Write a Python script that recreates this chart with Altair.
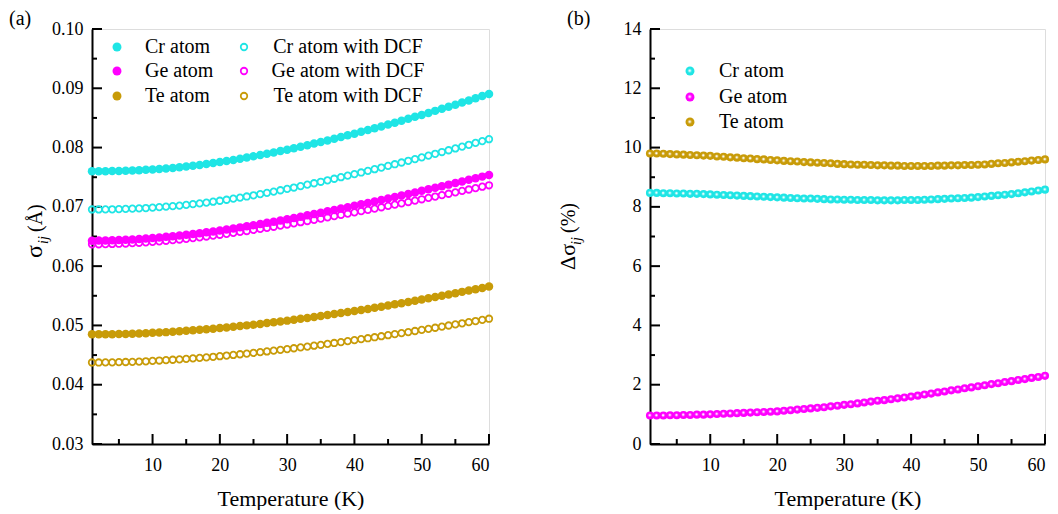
import altair as alt
import pandas as pd

# ---------------- data ----------------
temperature = list(range(1, 61))

cr_sigma = [0.07600, 0.07600, 0.07601, 0.07603, 0.07606, 0.07609, 0.07613, 0.07618, 0.07624, 0.07630,
            0.07638, 0.07647, 0.07657, 0.07668, 0.07680, 0.07693, 0.07707, 0.07722, 0.07738, 0.07755,
            0.07773, 0.07792, 0.07811, 0.07831, 0.07852, 0.07873, 0.07895, 0.07918, 0.07941, 0.07965,
            0.07990, 0.08015, 0.08041, 0.08067, 0.08094, 0.08121, 0.08149, 0.08177, 0.08206, 0.08235,
            0.08265, 0.08295, 0.08326, 0.08357, 0.08388, 0.08420, 0.08452, 0.08485, 0.08518, 0.08551,
            0.08585, 0.08619, 0.08653, 0.08688, 0.08723, 0.08759, 0.08795, 0.08831, 0.08868, 0.08905]
cr_sigma_dcf = [0.06956, 0.06956, 0.06957, 0.06959, 0.06962, 0.06965, 0.06969, 0.06974, 0.06980, 0.06988,
                0.06995, 0.07003, 0.07012, 0.07022, 0.07033, 0.07045, 0.07058, 0.07072, 0.07087, 0.07103,
                0.07120, 0.07138, 0.07156, 0.07175, 0.07195, 0.07215, 0.07236, 0.07258, 0.07280, 0.07303,
                0.07326, 0.07350, 0.07374, 0.07398, 0.07423, 0.07448, 0.07474, 0.07500, 0.07526, 0.07553,
                0.07580, 0.07607, 0.07635, 0.07663, 0.07691, 0.07719, 0.07748, 0.07777, 0.07806, 0.07835,
                0.07865, 0.07895, 0.07925, 0.07955, 0.07985, 0.08016, 0.08047, 0.08078, 0.08109, 0.08141]
ge_sigma = [0.06430, 0.06431, 0.06433, 0.06436, 0.06440, 0.06445, 0.06451, 0.06458, 0.06466, 0.06475,
            0.06484, 0.06494, 0.06505, 0.06517, 0.06529, 0.06542, 0.06556, 0.06571, 0.06586, 0.06602,
            0.06619, 0.06636, 0.06654, 0.06672, 0.06691, 0.06710, 0.06730, 0.06750, 0.06771, 0.06792,
            0.06813, 0.06835, 0.06857, 0.06879, 0.06902, 0.06925, 0.06948, 0.06971, 0.06995, 0.07019,
            0.07043, 0.07067, 0.07092, 0.07117, 0.07142, 0.07167, 0.07192, 0.07218, 0.07244, 0.07270,
            0.07296, 0.07322, 0.07348, 0.07375, 0.07402, 0.07429, 0.07456, 0.07483, 0.07510, 0.07537]
ge_sigma_dcf = [0.06368, 0.06369, 0.06371, 0.06374, 0.06378, 0.06382, 0.06388, 0.06394, 0.06402, 0.06410,
                0.06419, 0.06428, 0.06438, 0.06449, 0.06460, 0.06473, 0.06486, 0.06500, 0.06514, 0.06529,
                0.06545, 0.06560, 0.06577, 0.06593, 0.06611, 0.06628, 0.06647, 0.06664, 0.06684, 0.06702,
                0.06722, 0.06741, 0.06761, 0.06781, 0.06801, 0.06823, 0.06843, 0.06864, 0.06885, 0.06907,
                0.06928, 0.06949, 0.06971, 0.06993, 0.07016, 0.07037, 0.07060, 0.07082, 0.07106, 0.07128,
                0.07152, 0.07174, 0.07197, 0.07221, 0.07245, 0.07269, 0.07293, 0.07316, 0.07340, 0.07364]
te_sigma = [0.04850, 0.04850, 0.04851, 0.04852, 0.04854, 0.04857, 0.04860, 0.04864, 0.04869, 0.04875,
            0.04881, 0.04887, 0.04894, 0.04901, 0.04909, 0.04917, 0.04926, 0.04935, 0.04945, 0.04955,
            0.04966, 0.04977, 0.04989, 0.05001, 0.05013, 0.05026, 0.05039, 0.05053, 0.05067, 0.05081,
            0.05096, 0.05111, 0.05126, 0.05142, 0.05158, 0.05174, 0.05191, 0.05208, 0.05225, 0.05243,
            0.05261, 0.05279, 0.05298, 0.05317, 0.05336, 0.05356, 0.05376, 0.05396, 0.05416, 0.05437,
            0.05458, 0.05479, 0.05500, 0.05522, 0.05544, 0.05566, 0.05588, 0.05610, 0.05633, 0.05656]
te_sigma_dcf = [0.04375, 0.04375, 0.04376, 0.04377, 0.04380, 0.04383, 0.04386, 0.04390, 0.04395, 0.04401,
                0.04408, 0.04414, 0.04421, 0.04428, 0.04436, 0.04444, 0.04453, 0.04461, 0.04471, 0.04481,
                0.04492, 0.04502, 0.04514, 0.04525, 0.04537, 0.04549, 0.04561, 0.04575, 0.04588, 0.04601,
                0.04615, 0.04630, 0.04643, 0.04658, 0.04673, 0.04688, 0.04704, 0.04719, 0.04735, 0.04751,
                0.04768, 0.04784, 0.04801, 0.04818, 0.04835, 0.04853, 0.04871, 0.04888, 0.04906, 0.04925,
                0.04943, 0.04961, 0.04979, 0.04999, 0.05017, 0.05036, 0.05055, 0.05074, 0.05093, 0.05113]

cr_delta = [8.47, 8.47, 8.46, 8.46, 8.45, 8.45, 8.44, 8.44, 8.43, 8.42,
            8.41, 8.40, 8.39, 8.38, 8.37, 8.36, 8.35, 8.34, 8.33, 8.32,
            8.31, 8.30, 8.29, 8.28, 8.28, 8.27, 8.26, 8.25, 8.25, 8.24,
            8.24, 8.23, 8.23, 8.23, 8.22, 8.22, 8.22, 8.22, 8.23, 8.23,
            8.23, 8.24, 8.25, 8.26, 8.27, 8.28, 8.29, 8.30, 8.31, 8.33,
            8.35, 8.37, 8.39, 8.41, 8.43, 8.46, 8.49, 8.52, 8.55, 8.58]
ge_delta = [0.96, 0.96, 0.96, 0.97, 0.97, 0.98, 0.98, 0.99, 0.99, 1.00,
            1.01, 1.02, 1.03, 1.04, 1.05, 1.06, 1.07, 1.08, 1.09, 1.10,
            1.12, 1.14, 1.16, 1.18, 1.20, 1.22, 1.24, 1.27, 1.29, 1.32,
            1.34, 1.37, 1.40, 1.43, 1.46, 1.48, 1.51, 1.54, 1.57, 1.60,
            1.63, 1.67, 1.70, 1.74, 1.77, 1.81, 1.84, 1.88, 1.91, 1.95,
            1.98, 2.02, 2.05, 2.09, 2.12, 2.16, 2.19, 2.23, 2.26, 2.30]
te_delta = [9.80, 9.80, 9.79, 9.78, 9.77, 9.76, 9.75, 9.74, 9.73, 9.72,
            9.70, 9.69, 9.67, 9.66, 9.64, 9.63, 9.61, 9.60, 9.58, 9.57,
            9.55, 9.54, 9.53, 9.51, 9.50, 9.49, 9.48, 9.47, 9.45, 9.44,
            9.43, 9.42, 9.42, 9.41, 9.40, 9.40, 9.39, 9.39, 9.38, 9.38,
            9.38, 9.38, 9.38, 9.39, 9.39, 9.40, 9.40, 9.41, 9.41, 9.42,
            9.43, 9.45, 9.47, 9.48, 9.50, 9.52, 9.54, 9.56, 9.58, 9.60]

atoms = ["Cr atom", "Ge atom", "Te atom"]
atoms_dcf = ["Cr atom with DCF", "Ge atom with DCF", "Te atom with DCF"]
x_major = [10, 20, 30, 40, 50, 60]
x_minor = [5, 15, 25, 35, 45, 55]
ya_major = [0.03, 0.04, 0.05, 0.06, 0.07, 0.08, 0.09, 0.10]
ya_minor = [0.035, 0.045, 0.055, 0.065, 0.075, 0.085, 0.095]
yb_major = [0, 2, 4, 6, 8, 10, 12, 14]
yb_minor = [1, 3, 5, 7, 9, 11, 13]

# ---------------- styling ----------------
FONT = "Liberation Serif"
COLORS = ["#1FE5E5", "#FF00FF", "#C89B08"]
W_A, W_B, H = 397, 395, 415

filled_df = pd.DataFrame({
    "T": temperature * 3,
    "v": cr_sigma + ge_sigma + te_sigma,
    "s": [atoms[0]] * 60 + [atoms[1]] * 60 + [atoms[2]] * 60,
})
open_df = pd.DataFrame({
    "T": temperature * 3,
    "v": cr_sigma_dcf + ge_sigma_dcf + te_sigma_dcf,
    "s": [atoms_dcf[0]] * 60 + [atoms_dcf[1]] * 60 + [atoms_dcf[2]] * 60,
})

xscale = alt.Scale(domain=[1, 60], nice=False, zero=False)
ya_scale = alt.Scale(domain=[0.03, 0.10], nice=False, zero=False)
yb_scale = alt.Scale(domain=[0, 14], nice=False, zero=False)

xaxis = alt.Axis(values=x_major, title="Temperature (K)", titleFontSize=22, titleFont=FONT,
                 titleFontWeight="normal", titlePadding=14, titleColor="black",
                 labelFont=FONT, labelFontSize=18, labelColor="black", labelPadding=12,
                 ticks=False, grid=False, domainColor="black", domainWidth=2)
ya_axis = alt.Axis(values=ya_major, format=".2f", title=None,
                   labelFont=FONT, labelFontSize=18, labelColor="black", labelPadding=9,
                   ticks=False, grid=False, domainColor="black", domainWidth=2)
yb_axis = alt.Axis(values=yb_major, format="d", title=None,
                   labelFont=FONT, labelFontSize=18, labelColor="black", labelPadding=9,
                   ticks=False, grid=False, domainColor="black", domainWidth=2)


def tick_layers(yscale, yaxis, ymaj, ymin, w, h):
    out = []
    for vals, ln in ((x_major, 10), (x_minor, 5)):
        out.append(alt.Chart(pd.DataFrame({"T": vals})).mark_rule(color="black", strokeWidth=2).encode(
            x=alt.X("T:Q", scale=xscale, axis=xaxis), y=alt.value(h), y2=alt.value(h - ln)))
    for vals, ln in ((ymaj, 10), (ymin, 5)):
        out.append(alt.Chart(pd.DataFrame({"v": vals})).mark_rule(color="black", strokeWidth=2).encode(
            y=alt.Y("v:Q", scale=yscale, axis=yaxis), x=alt.value(0), x2=alt.value(ln)))
    return out


def txt(s, x, y, size=20, angle=0, align="left", baseline="alphabetic", style="normal"):
    return alt.Chart(alt.Data(values=[{}])).mark_text(
        text=s, font=FONT, fontSize=size, angle=angle, align=align, baseline=baseline,
        fontStyle=style, color="black").encode(x=alt.value(x), y=alt.value(y))


cscale_f = alt.Scale(domain=atoms, range=COLORS)
cscale_o = alt.Scale(domain=atoms_dcf, range=COLORS)

filled_a = alt.Chart(filled_df).mark_circle(size=72, opacity=1).encode(
    x=alt.X("T:Q", scale=xscale, axis=xaxis),
    y=alt.Y("v:Q", scale=ya_scale, axis=ya_axis),
    color=alt.Color("s:N", scale=cscale_f, legend=None))
open_a = alt.Chart(open_df).mark_point(shape="circle", filled=False, size=42, strokeWidth=1.8, opacity=1).encode(
    x=alt.X("T:Q", scale=xscale, axis=xaxis),
    y=alt.Y("v:Q", scale=ya_scale, axis=ya_axis),
    stroke=alt.Stroke("s:N", scale=cscale_o, legend=None))

legend_a = []
rows_a = [18, 42, 67]
for i in range(3):
    legend_a.append(alt.Chart(alt.Data(values=[{}])).mark_circle(size=80, opacity=1, color=COLORS[i]).encode(
        x=alt.value(25), y=alt.value(rows_a[i])))
    legend_a.append(txt(atoms[i], 53, rows_a[i], baseline="middle"))
    legend_a.append(alt.Chart(alt.Data(values=[{}])).mark_point(
        shape="circle", filled=False, size=42, strokeWidth=1.8, opacity=1, color=COLORS[i]).encode(
        x=alt.value(152), y=alt.value(rows_a[i])))
    legend_a.append(txt(atoms_dcf[i], 256, rows_a[i], align="center", baseline="middle"))

title_a = [
    txt("σ", -50, 229, size=24, angle=270),
    txt("ij", -44, 215, size=14, angle=270, style="italic"),
    txt("(Å)", -50, 203, size=20, angle=270),
    txt("(a)", -83, -4, size=20),
]

panel_a = alt.layer(*tick_layers(ya_scale, ya_axis, ya_major, ya_minor, W_A, H),
                    filled_a, open_a, *legend_a, *title_a).properties(width=W_A, height=H)

# ---------------- panel b ----------------
delta_df = pd.DataFrame({
    "T": temperature * 3,
    "v": cr_delta + ge_delta + te_delta,
    "s": [atoms[0]] * 60 + [atoms[1]] * 60 + [atoms[2]] * 60,
})


def sphere(c):
    return {"gradient": "radial", "x1": 0.45, "y1": 0.45, "r1": 0, "x2": 0.5, "y2": 0.5, "r2": 0.5,
            "stops": [{"offset": 0, "color": "white"}, {"offset": 0.12, "color": "white"},
                      {"offset": 0.45, "color": c}, {"offset": 1, "color": c}]}


spheres_b = []
for i in range(3):
    spheres_b.append(alt.Chart(delta_df[delta_df["s"] == atoms[i]]).mark_point(
        shape="circle", filled=True, size=66, opacity=1, fill=sphere(COLORS[i]), strokeWidth=0).encode(
        x=alt.X("T:Q", scale=xscale, axis=xaxis),
        y=alt.Y("v:Q", scale=yb_scale, axis=yb_axis)))

legend_b = []
rows_b = [42, 68, 93]
for i in range(3):
    legend_b.append(alt.Chart(alt.Data(values=[{}])).mark_point(
        shape="circle", filled=True, size=80, opacity=1, fill=sphere(COLORS[i]), strokeWidth=0).encode(
        x=alt.value(40), y=alt.value(rows_b[i])))
    legend_b.append(txt(atoms[i], 69, rows_b[i], baseline="middle"))

title_b = [
    txt("Δσ", -75, 241, size=22, angle=270),
    txt("ij", -69, 216, size=14, angle=270, style="italic"),
    txt("(%)", -75, 204, size=20, angle=270),
    txt("(b)", -83, -4, size=20),
]

panel_b = alt.layer(*tick_layers(yb_scale, yb_axis, yb_major, yb_minor, W_B, H),
                    *spheres_b, *legend_b, *title_b).properties(width=W_B, height=H)

chart = alt.hconcat(panel_a, panel_b, spacing=59).properties(padding=0).configure_view(
    stroke="black", strokeWidth=2).configure(background="white")

chart.save("out.html", embed_options={"renderer": "svg", "actions": False})
